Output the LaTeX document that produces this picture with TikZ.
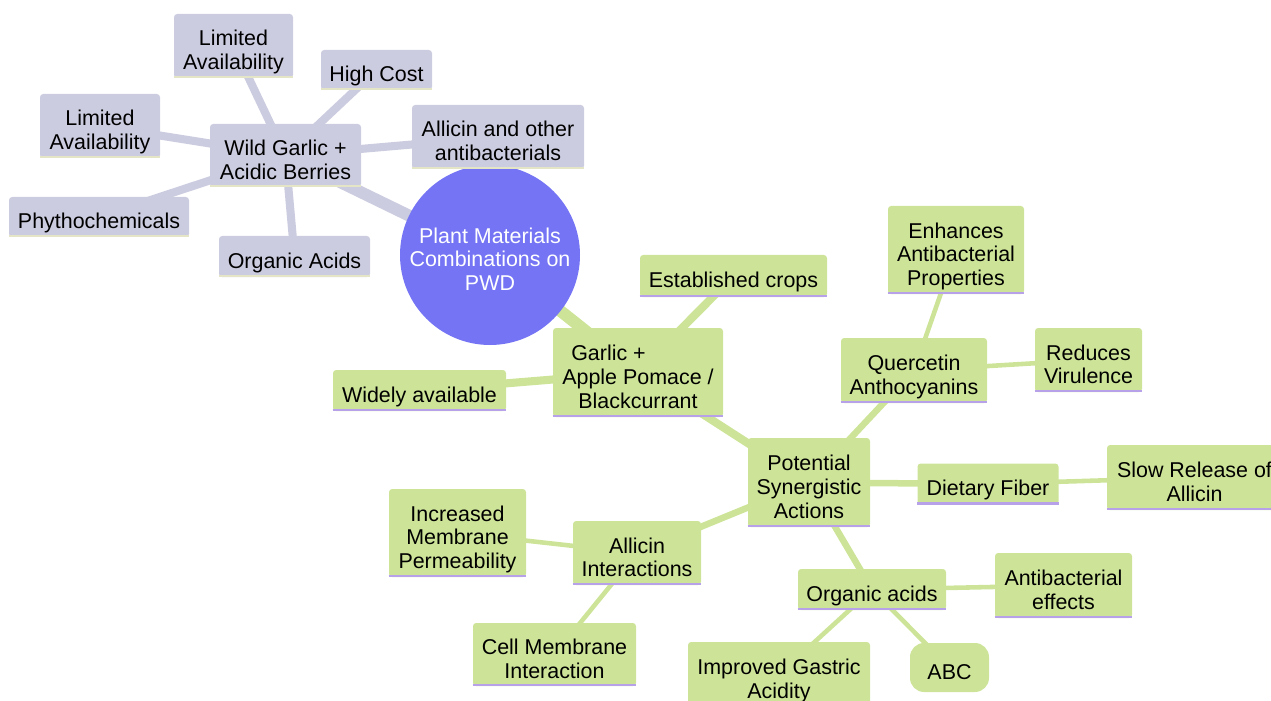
\documentclass[tikz,border=0pt]{standalone}
\usepackage{fontspec}
\setmainfont{Liberation Sans}
\usetikzlibrary{backgrounds}

\definecolor{rootblue}{HTML}{7474F4}
\definecolor{greyfill}{HTML}{CCCCE0}
\definecolor{greenfill}{HTML}{CDE498}
\definecolor{greyline}{HTML}{E4E4C6}
\definecolor{greenline}{HTML}{B7A2EA}

\begin{document}
\begin{tikzpicture}[x=0.2mm, y=-0.2mm,
  txt/.style={align=center, font=\fontsize{12.2pt}{13.6pt}\selectfont, text depth=2.8pt},
  l1/.style={text height=16.4pt},
  l2/.style={text height=30pt},
  l3/.style={text height=43.6pt},
  box/.style={rectangle, rounded corners=1.8pt, inner sep=0pt, txt},
  gnode/.style={box, fill=greyfill},
  lnode/.style={box, fill=greenfill},
  sz/.style 2 args={minimum width=#1*0.2mm, minimum height=#2*0.2mm},
  edgeA/.style={line width=6.8pt},
  edgeB/.style={line width=4.6pt},
  edgeC/.style={line width=3.7pt},
  edgeD/.style={line width=2.6pt},
  gunder/.style={greyline, line width=1.4pt},
  lunder/.style={greenline, line width=1.4pt}]
  \useasboundingbox (0,0) rectangle (1271,701);

  % centre
  \node[circle, fill=rootblue, minimum size=36mm, inner sep=0pt, txt, l3,
    text=white] (root) at (490,255)
    {Plant Materials\\Combinations on\\PWD};

  % wild garlic branch
  \node[gnode, l2, sz={151}{63}] (wild) at (285.5,155.5) {Wild Garlic +\\Acidic Berries};
  \node[gnode, l2, sz={172}{64}] (allic) at (498,137) {Allicin and other\\antibacterials};
  \node[gnode, l1, sz={151}{41}] (orgA) at (294.5,256.5) {Organic Acids};
  \node[gnode, l1, sz={180}{40}] (phyto) at (99,217) {Phythochemicals};
  \node[gnode, l2, sz={120}{64}] (avail1) at (100,126) {Limited\\Availability};
  \node[gnode, l2, sz={119}{64}] (avail2) at (233.5,46) {Limited\\Availability};
  \node[gnode, l1, sz={111}{40}] (cost) at (376.5,70) {High Cost};

  % garlic + apple pomace branch
  \node[lnode, l3, sz={170}{89}] (garlic) at (638,372.5) {Garlic +\hspace*{2.75em}\\Apple Pomace /\\Blackcurrant};
  \node[lnode, l1, sz={187}{42}] (crops) at (733.5,276) {Established crops};
  \node[lnode, l1, sz={173}{41}] (wide) at (419.5,390.5) {Widely available};
  \node[lnode, l3, sz={122}{89}] (syn) at (809,482.5) {Potential\\Synergistic\\Actions};
  \node[lnode, l2, sz={146}{65}] (querc) at (914,370.5) {Quercetin\\Anthocyanins};
  \node[lnode, l3, sz={136}{88}] (enh) at (956,250) {Enhances\\Antibacterial\\Properties};
  \node[lnode, l2, sz={107}{64}] (vir) at (1088.5,360) {Reduces\\Virulence};
  \node[lnode, l1, sz={141}{41}] (fiber) at (988,484) {Dietary Fiber};
  \node[lnode, l2, sz={175}{65}] (slow) at (1194.5,477.5) {Slow Release of\\Allicin};
  \node[lnode, l2, sz={128}{64}] (inter) at (637,553) {Allicin\\Interactions};
  \node[lnode, l3, sz={137}{88}] (perm) at (457.5,533) {Increased\\Membrane\\Permeability};
  \node[lnode, l2, sz={163}{63}] (cell) at (554.5,654.5) {Cell Membrane\\Interaction};
  \node[lnode, l1, sz={148}{41}] (acids) at (872,589.5) {Organic acids};
  \node[lnode, l2, sz={137}{65}] (anti) at (1063.5,585.5) {Antibacterial\\effects};
  \node[lnode, l2, sz={182}{65}] (gastric) at (779,674.5) {Improved Gastric\\Acidity};
  \node[lnode, l1, sz={79}{49}, rounded corners=8pt] (abc) at (949.5,667.5) {ABC};

  \foreach \n in {wild,allic,orgA,phyto,avail1,avail2,cost}
    \draw[gunder] ([yshift=0.7pt]\n.south west) -- ([yshift=0.7pt]\n.south east);
  \foreach \n in {garlic,crops,wide,syn,querc,enh,vir,fiber,slow,inter,perm,cell,acids,anti,gastric}
    \draw[lunder] ([yshift=0.7pt]\n.south west) -- ([yshift=0.7pt]\n.south east);

  \begin{scope}[on background layer]
    \draw[edgeA, greyfill] (root.center) -- (wild.center);
    \foreach \n in {allic,orgA,phyto,avail1,avail2,cost}
      \draw[edgeB, greyfill] (wild.center) -- (\n.center);
    \draw[edgeA, greenfill] (root.center) -- (garlic.center);
    \foreach \n in {crops,wide,syn}
      \draw[edgeB, greenfill] (garlic.center) -- (\n.center);
    \foreach \n in {querc,fiber,inter,acids}
      \draw[edgeC, greenfill] (syn.center) -- (\n.center);
    \draw[edgeD, greenfill] (querc.center) -- (enh.center);
    \draw[edgeD, greenfill] (querc.center) -- (vir.center);
    \draw[edgeD, greenfill] (fiber.center) -- (slow.center);
    \draw[edgeD, greenfill] (inter.center) -- (perm.center);
    \draw[edgeD, greenfill] (inter.center) -- (cell.center);
    \draw[edgeD, greenfill] (acids.center) -- (anti.center);
    \draw[edgeD, greenfill] (acids.center) -- (gastric.center);
    \draw[edgeD, greenfill] (acids.center) -- (abc.center);
  \end{scope}
\end{tikzpicture}
\end{document}
